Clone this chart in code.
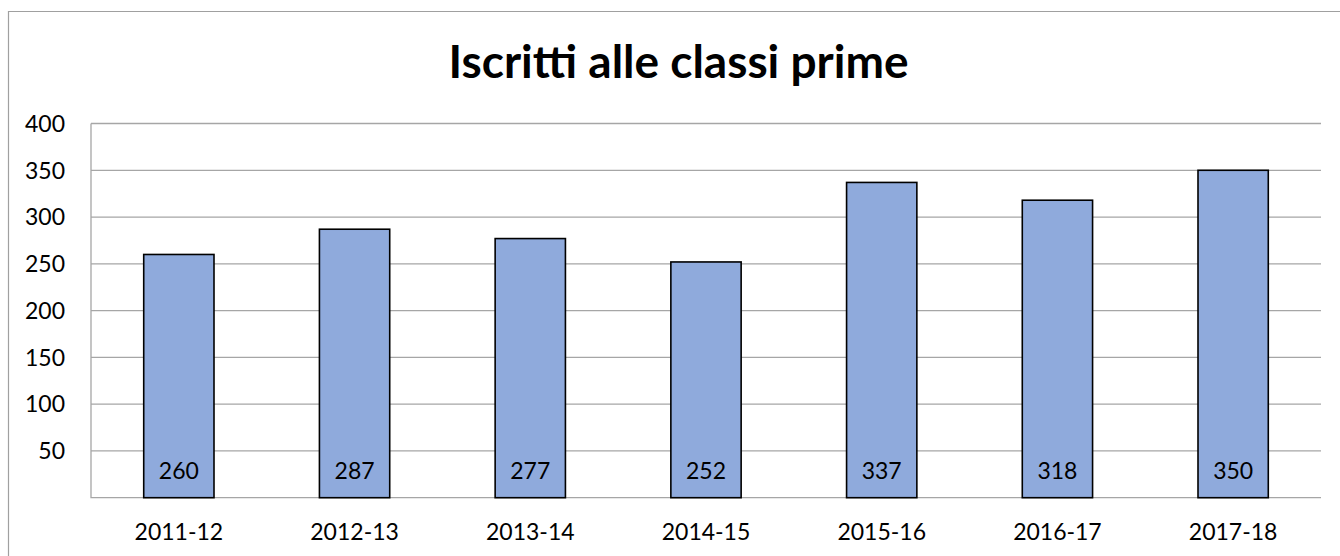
<!DOCTYPE html>
<html>
<head>
<meta charset="utf-8">
<script src="https://cdn.jsdelivr.net/npm/d3@7"></script>
<style>
  body { margin: 0; background: #fff; }
  svg { display: block; font-family: Lato, "Open Sans", sans-serif; }
</style>
</head>
<body>
<div id="chart"></div>
<script>
const title = "Iscritti alle classi prime";
const years = ["2011-12", "2012-13", "2013-14", "2014-15", "2015-16", "2016-17", "2017-18"];
const iscritti = [260, 287, 277, 252, 337, 318, 350];
const yTicks = [50, 100, 150, 200, 250, 300, 350, 400];

const width = 1340;
const height = 556;
const margin = { top: 123.5, right: 19, bottom: 58.3, left: 91 };

const svg = d3
  .select("#chart")
  .append("svg")
  .attr("width", width)
  .attr("height", height);

// outer chart border (continues past the picture on right and bottom)
svg
  .append("path")
  .attr("d", `M8.5,${height + 2}V11.5H${width + 2}`)
  .attr("fill", "none")
  .attr("stroke", "#a0a0a0")
  .attr("stroke-width", 1.2);

const x = d3
  .scaleBand()
  .domain(years)
  .range([margin.left, width - margin.right])
  .paddingInner(0.6)
  .paddingOuter(0.3);

const y = d3
  .scaleLinear()
  .domain([0, 400])
  .range([height - margin.bottom, margin.top]);

// gridlines
svg
  .append("g")
  .selectAll("line")
  .data(yTicks)
  .join("line")
  .attr("x1", margin.left)
  .attr("x2", width - margin.right)
  .attr("y1", (d) => y(d))
  .attr("y2", (d) => y(d))
  .attr("stroke", "#a6a6a6")
  .attr("stroke-width", 1.3);

// axis lines
svg
  .append("path")
  .attr("d", `M${margin.left},${y(400)}V${y(0)}H${width - margin.right}`)
  .attr("fill", "none")
  .attr("stroke", "#a6a6a6")
  .attr("stroke-width", 1.3);

// y labels
svg
  .append("g")
  .selectAll("text")
  .data(yTicks)
  .join("text")
  .attr("x", 65)
  .attr("y", (d) => y(d))
  .attr("dy", "0.36em")
  .attr("text-anchor", "end")
  .attr("font-size", 23)
  .attr("fill", "#000")
  .text((d) => d);

// bars
svg
  .append("g")
  .selectAll("rect")
  .data(iscritti)
  .join("rect")
  .attr("x", (d, i) => x(years[i]))
  .attr("width", x.bandwidth())
  .attr("y", (d) => y(d))
  .attr("height", (d) => y(0) - y(d))
  .attr("fill", "#8faadc")
  .attr("stroke", "#000")
  .attr("stroke-width", 1.6);

// value labels near the bar base
svg
  .append("g")
  .selectAll("text")
  .data(iscritti)
  .join("text")
  .attr("x", (d, i) => x(years[i]) + x.bandwidth() / 2)
  .attr("y", y(0) - 18.4)
  .attr("text-anchor", "middle")
  .attr("font-size", 23)
  .attr("fill", "#000")
  .text((d) => d);

// x labels
svg
  .append("g")
  .selectAll("text")
  .data(years)
  .join("text")
  .attr("x", (d) => x(d) + x.bandwidth() / 2)
  .attr("y", 540)
  .attr("text-anchor", "middle")
  .attr("font-size", 23)
  .attr("fill", "#000")
  .text((d) => d);

svg
  .append("text")
  .attr("x", 678.5)
  .attr("y", 77.7)
  .attr("text-anchor", "middle")
  .attr("font-size", 46)
  .attr("font-weight", "bold")
  .attr("fill", "#000")
  .text(title);
</script>
</body>
</html>
